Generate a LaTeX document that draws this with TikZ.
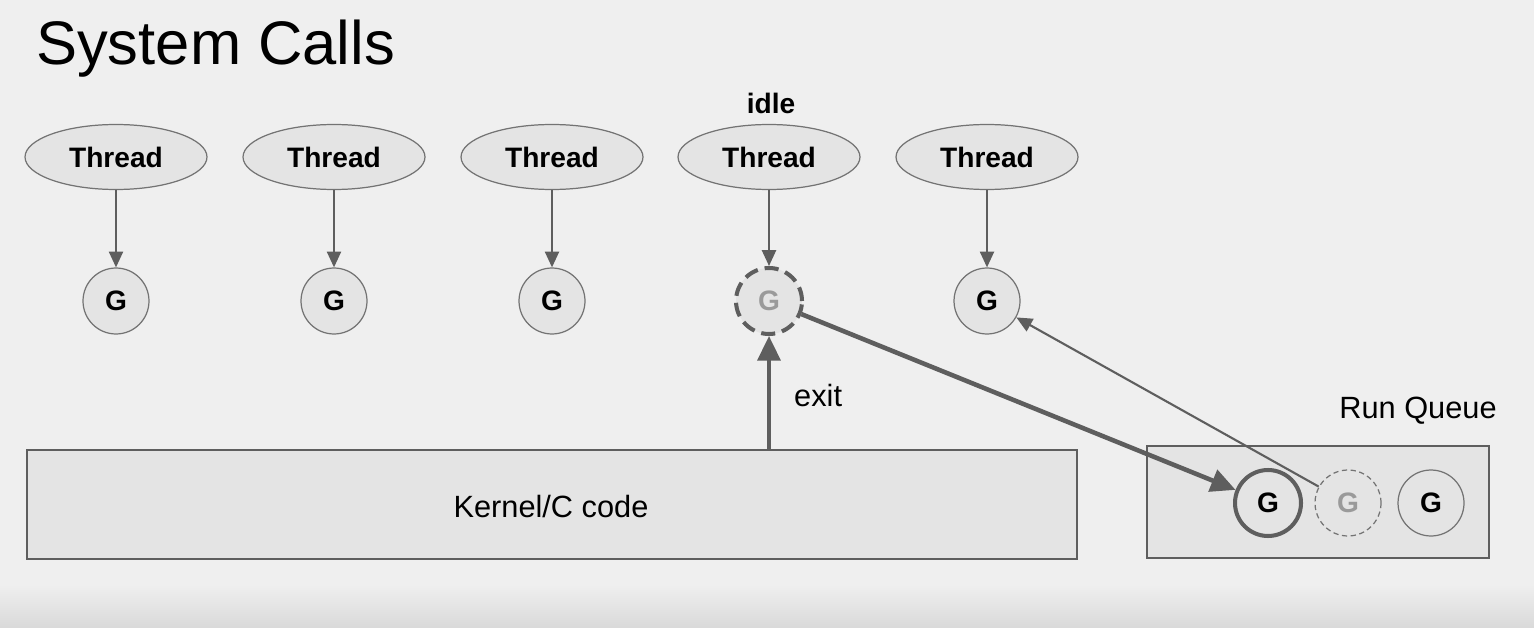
\documentclass[tikz,border=0pt]{standalone}
\usepackage{fontspec}
\setmainfont{Liberation Sans}
\usetikzlibrary{arrows.meta,shapes.geometric}
\definecolor{slidebg}{HTML}{EFEFEF}
\definecolor{slidefoot}{HTML}{D9D9D9}
\definecolor{shapefill}{HTML}{E4E4E4}
\definecolor{shapeline}{HTML}{737373}
\definecolor{arrowgray}{HTML}{5E5E5E}
\definecolor{fadedtext}{HTML}{9A9A9A}
\tikzset{
  thread/.style={ellipse, draw=shapeline, fill=shapefill, line width=0.7pt,
    minimum width=3.64cm, minimum height=1.3cm, inner sep=0pt,
    font=\fontsize{16}{19}\selectfont\bfseries},
  gor/.style={circle, draw=shapeline, fill=shapefill, line width=0.7pt,
    minimum size=1.32cm, inner sep=0pt,
    font=\fontsize{16}{19}\selectfont\bfseries},
  label/.style={font=\fontsize{17.5}{21}\selectfont},
  box/.style={draw=arrowgray, fill=shapefill, line width=1.1pt},
  link/.style={draw=arrowgray, line width=1.2pt,
    -{Triangle[length=9pt,width=8pt]}},
  biglink/.style={draw=arrowgray, line width=2.6pt,
    -{Triangle[length=14pt,width=13pt]}},
}
\begin{document}
\begin{tikzpicture}[x=0.02cm, y=-0.02cm]
% slide background
\fill[slidebg] (0,0) rectangle (1534,628);
\shade[top color=slidebg, bottom color=slidefoot] (0,585) rectangle (1534,628);
\useasboundingbox (0,0) rectangle (1534,628);
\node[anchor=west, font=\fontsize{35}{42}\selectfont] (title) at (30,49) {System Calls};

% threads and their goroutines
\node[thread] (t1) at (116,157) {Thread};
\node[thread] (t2) at (334,157) {Thread};
\node[thread] (t3) at (552,157) {Thread};
\node[thread] (t4) at (769,157) {Thread};
\node[thread] (t5) at (987,157) {Thread};
\node[font=\fontsize{16}{19}\selectfont\bfseries] (idle) at (771,103) {idle};

\node[gor] (g1) at (116,301) {G};
\node[gor] (g2) at (334,301) {G};
\node[gor] (g3) at (552,301) {G};
\node[gor, draw=arrowgray, line width=2.3pt, dash pattern=on 8pt off 4pt,
  text=fadedtext] (g4) at (769,301) {G};
\node[gor] (g5) at (987,301) {G};

\draw[link] (t1) -- (g1);
\draw[link] (t2) -- (g2);
\draw[link] (t3) -- (g3);
\draw[link] (t4) -- (g4);
\draw[link] (t5) -- (g5);

% kernel
\draw[box] (27,450) rectangle (1077,559);
\node[label] (kernel) at (551,507) {Kernel/C code};
\coordinate (kexit) at (769,450);
\draw[biglink, line width=2.2pt] (kexit) -- (g4);
\node[label, anchor=west] (exit) at (788,396) {exit};

% run queue
\draw[box] (1147,446) rectangle (1489,558);
\node[label] (rq) at (1418,411) {Run Queue};
\node[gor, draw=arrowgray, line width=2.3pt] (q1) at (1268,503) {G};
\node[gor, draw=shapeline, dash pattern=on 3pt off 2pt, text=fadedtext] (q2) at (1348,503) {G};
\node[gor] (q3) at (1431,503) {G};

\draw[biglink] (g4) -- (q1);
\draw[link] (q2) -- (g5);
\end{tikzpicture}
\end{document}
